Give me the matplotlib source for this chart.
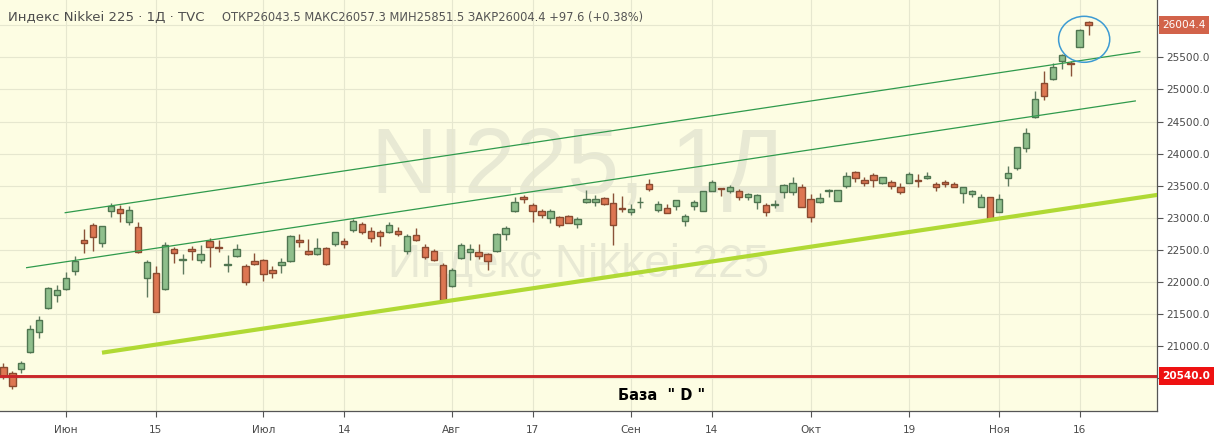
import matplotlib
matplotlib.use('Agg')
import matplotlib.pyplot as plt
from matplotlib.patches import Ellipse
import numpy as np
import pandas as pd

plt.rcParams['font.family'] = ['DejaVu Sans']

# Trading days (TSE holidays and the Oct 1 outage removed)
holidays = ['2020-07-23', '2020-07-24', '2020-08-10', '2020-09-21',
            '2020-09-22', '2020-10-01', '2020-11-03']
dates = pd.bdate_range('2020-05-21', '2020-11-17')
dates = dates[~dates.isin(pd.to_datetime(holidays))]

opens = [20683, 20579, 20641, 20916, 21228, 21602, 21794, 21897, 22167, 22650,
         22889, 22603, 23112, 23133, 22930, 22852, 22069, 22136, 21898, 22510,
         22350, 22510, 22349, 22640, 22540, 22268, 22411, 22250, 22328, 22344,
         22183, 22261, 22333, 22650, 22484, 22432, 22526, 22588, 22640, 22811,
         22904, 22801, 22775, 22785, 22795, 22489, 22733, 22541, 22489, 22261,
         21944, 22370, 22474, 22469, 22432, 22489, 22743, 23112, 23325, 23200,
         23107, 22993, 23008, 23024, 22910, 23242, 23252, 23309, 23226, 23150,
         23086, 23240, 23527, 23122, 23148, 23190, 22956, 23190, 23112, 23423,
         23465, 23424, 23413, 23320, 23242, 23206, 23198, 23397, 23408, 23475,
         23288, 23252, 23420, 23268, 23501, 23709, 23589, 23667, 23548, 23553,
         23475, 23538, 23590, 23615, 23527, 23558, 23527, 23382, 23366, 23164,
         23320, 23097, 23615, 23771, 24083, 24565, 25095, 25157, 25448, 25416,
         25655, 26043.5]
highs = [20735, 20616, 20776, 21332, 21472, 21928, 21954, 22162, 22406, 22821,
         22915, 22868, 23226, 23200, 23190, 22930, 22344, 22250, 22629, 22541,
         22432, 22562, 22577, 22692, 22655, 22422, 22593, 22281, 22458, 22360,
         22250, 22380, 22733, 22754, 22666, 22681, 22551, 22785, 22681, 22977,
         22941, 22852, 22811, 22930, 22852, 22743, 22842, 22593, 22515, 22292,
         22214, 22614, 22593, 22593, 22448, 22759, 22873, 23320, 23356, 23226,
         23133, 23133, 23034, 23044, 23019, 23434, 23356, 23330, 23392, 23340,
         23211, 23330, 23600, 23257, 23216, 23273, 23060, 23278, 23418, 23590,
         23470, 23512, 23444, 23392, 23372, 23226, 23278, 23527, 23631, 23522,
         23371, 23382, 23455, 23434, 23719, 23735, 23631, 23693, 23631, 23589,
         23538, 23709, 23683, 23719, 23553, 23589, 23563, 23486, 23434, 23371,
         23320, 23371, 23808, 24109, 24394, 24980, 25287, 25406, 25551, 25448,
         25935, 26057.3]
lows = [20486, 20330, 20579, 20901, 21134, 21576, 21695, 21877, 22110, 22458,
        22489, 22551, 23018, 22930, 22894, 22458, 21773, 21529, 21877, 22302,
        22121, 22344, 22302, 22240, 22474, 22162, 22396, 21960, 22261, 22022,
        22069, 22147, 22318, 22541, 22422, 22422, 22266, 22562, 22536, 22785,
        22749, 22629, 22567, 22759, 22723, 22432, 22635, 22365, 22323, 21710,
        21918, 22354, 22344, 22354, 22188, 22474, 22655, 23096, 23226, 22941,
        22993, 22915, 22852, 22915, 22847, 23226, 23190, 23200, 22577, 23097,
        23039, 23159, 23424, 23097, 23081, 23122, 22878, 23122, 23112, 23423,
        23345, 23392, 23278, 23278, 23138, 23034, 23148, 23304, 23356, 23164,
        22941, 23226, 23320, 23268, 23470, 23553, 23501, 23486, 23522, 23449,
        23372, 23538, 23486, 23600, 23423, 23486, 23475, 23226, 23330, 23164,
        22967, 23097, 23496, 23745, 24031, 24550, 24835, 25147, 25318, 25209,
        25655, 25851.5]
closes = [20538, 20382, 20735, 21264, 21410, 21903, 21877, 22058, 22333, 22603,
          22697, 22868, 23190, 23081, 23117, 22468, 22313, 21529, 22577, 22448,
          22358, 22479, 22432, 22541, 22532, 22274, 22510, 21996, 22276, 22121,
          22136, 22307, 22718, 22619, 22432, 22526, 22287, 22775, 22593, 22951,
          22775, 22692, 22712, 22889, 22743, 22717, 22650, 22385, 22344, 21721,
          22189, 22577, 22510, 22411, 22323, 22743, 22837, 23247, 23288, 23102,
          23050, 23107, 22884, 22915, 22982, 23288, 23288, 23211, 22884, 23135,
          23138, 23250, 23455, 23211, 23081, 23273, 23024, 23247, 23418, 23553,
          23454, 23476, 23320, 23366, 23356, 23086, 23204, 23512, 23538, 23174,
          23019, 23304, 23433, 23434, 23652, 23615, 23548, 23589, 23631, 23501,
          23408, 23683, 23577, 23652, 23475, 23522, 23486, 23486, 23418, 23330,
          22982, 23289, 23694, 24109, 24327, 24846, 24903, 25354, 25531, 25396,
          25920, 26004.4]

tick_dates = ['2020-06-01', '2020-06-15', '2020-07-01', '2020-07-14',
              '2020-08-03', '2020-08-17', '2020-09-01', '2020-09-14',
              '2020-10-02', '2020-10-19', '2020-11-02', '2020-11-16']
tick_labels = ['Июн', '15', 'Июл', '14', 'Авг', '17', 'Сен', '14',
               'Окт', '19', 'Ноя', '16']

# drawings: (bar position, price) anchors
upper_x, upper_y = [6.9, 126.7], [23080, 25587]
middle_x, middle_y = [2.6, 126.2], [22224, 24820]
support_x, support_y = [11.0, 130.0], [20900, 23385]
base_level = 20540.0
circle_center = (120.5, 25780)
change, change_pct = 97.6, 0.38

o = np.array(opens, dtype=float)
h = np.array(highs, dtype=float)
l = np.array(lows, dtype=float)
c = np.array(closes, dtype=float)
x = np.arange(len(dates))
up = c >= o

fig = plt.figure(figsize=(12.14, 4.36), dpi=100, facecolor='white')
ax = fig.add_axes([0, 1 - 411 / 436, 1157 / 1214, 411 / 436])
ax.set_facecolor('#fdfde3')

# watermark
ax.text(0.5, 0.53, 'NI225, 1Д', transform=ax.transAxes, ha='center',
        va='baseline', fontsize=67, color='#e8e9d4', family='Liberation Sans',
        zorder=0)
ax.text(0.5, 0.326, 'Индекс Nikkei 225', transform=ax.transAxes, ha='center',
        va='baseline', fontsize=33, color='#e8e9d4', family='Liberation Sans',
        zorder=0)

# candles
wick_col = np.where(up, '#5f7a5f', '#8a5238')
fill_col = np.where(up, '#8fbf8c', '#dd7652')
edge_col = np.where(up, '#4f7550', '#8a4a30')
ax.vlines(x, l, h, colors=wick_col, lw=1, zorder=2)
body_low = np.minimum(o, c)
body_h = np.maximum(np.abs(c - o), 10)
ax.bar(x, body_h, bottom=body_low, width=0.72, color=fill_col,
       edgecolor=edge_col, linewidth=1, zorder=3)

# drawings
ax.plot(upper_x, upper_y, color='#2f9a4c', lw=0.9, zorder=4)
ax.plot(middle_x, middle_y, color='#2f9a4c', lw=0.9, zorder=4)
ax.plot(support_x, support_y, color='#b0d934', lw=3, zorder=4,
        solid_capstyle='butt')
ax.axhline(base_level, color='#c9262a', lw=2.1, zorder=4)
ax.add_patch(Ellipse(circle_center, 5.7, 716, fill=False, ec='#3d9bd3',
                     lw=1.1, zorder=5))
ax.text(73.4, 20164, 'База  " D "', ha='center', va='baseline', fontsize=10.5,
        fontweight='bold', color='black', zorder=5)

# axes
ax.set_xlim(-0.37, 128.62)
ax.set_ylim(19992, 26392)
tick_idx = [dates.get_loc(pd.Timestamp(d)) for d in tick_dates]
ax.set_xticks(tick_idx)
ax.set_xticklabels(tick_labels)
yt = np.arange(20500, 26001, 500)
ax.set_yticks(yt)
ax.set_yticklabels(['' if v in (20500, 26000) else f'{v:.1f}' for v in yt])
ax.yaxis.tick_right()
ax.tick_params(axis='y', length=4, width=0.8, color='#555555', pad=3,
               labelsize=7.6, labelcolor='#4a4a4a')
ax.tick_params(axis='x', length=4, width=0.8, color='#555555', pad=6,
               labelsize=7.6, labelcolor='#4a4a4a')
ax.grid(True, color='#e6e7cf', lw=0.8)
ax.set_axisbelow(True)
for side in ['top', 'left']:
    ax.spines[side].set_visible(False)
for side in ['right', 'bottom']:
    ax.spines[side].set_color('#555555')
    ax.spines[side].set_linewidth(0.9)

# price labels on the scale
ytr = ax.get_yaxis_transform()
ax.text(1.0045, c[-1], f'{c[-1]:.1f}', transform=ytr, ha='left', va='center',
        fontsize=7.6, color='white', clip_on=False,
        bbox=dict(boxstyle='square,pad=0.35', fc='#d2634a', ec='none'))
ax.text(1.0045, base_level, f'{base_level:.1f}', transform=ytr, ha='left',
        va='center', fontsize=7.6, color='white', fontweight='bold',
        clip_on=False,
        bbox=dict(boxstyle='square,pad=0.35', fc='#ee1111', ec='none'))

# header
fig.text(8 / 1214, 1 - 21 / 436, 'Индекс Nikkei 225 · 1Д · TVC',
         fontsize=9.5, color='#4d4d4d', va='baseline')
fig.text(222 / 1214, 1 - 21 / 436,
         f'ОТКР{o[-1]:.1f} МАКС{h[-1]:.1f} МИН{l[-1]:.1f} '
         f'ЗАКР{c[-1]:.1f} +{change:.1f} (+{change_pct:.2f}%)',
         fontsize=8.3, color='#555555', va='baseline')

fig.savefig('out.png', dpi=100, facecolor='white')
